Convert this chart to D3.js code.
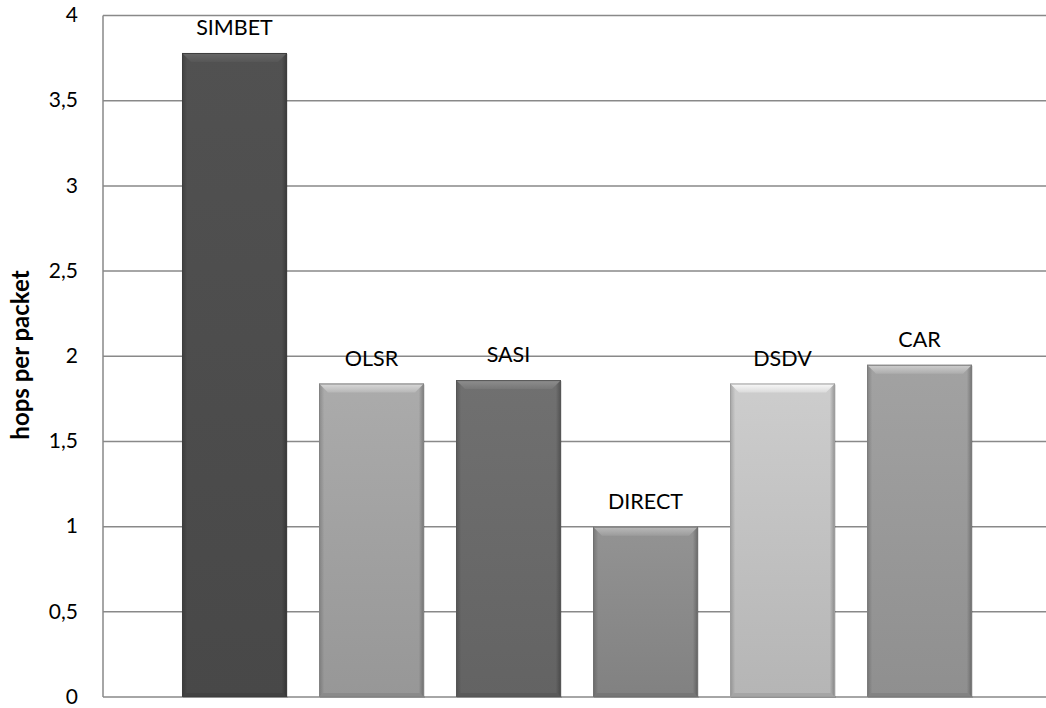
<!DOCTYPE html>
<html><head><meta charset="utf-8">
<script src="https://cdn.jsdelivr.net/npm/d3@7"></script>
<style>
html,body{margin:0;padding:0;background:#fff;}
svg{display:block;font-family:Lato,"Open Sans",sans-serif;}
</style></head>
<body>
<svg id="chart" width="1046" height="708"></svg>
<script>
const categories = ["SIMBET","OLSR","SASI","DIRECT","DSDV","CAR"];
const values = [3.78, 1.84, 1.86, 1.00, 1.84, 1.95];
const barColors = ["#4d4d4d","#a2a2a2","#6a6a6a","#8b8b8b","#c2c2c2","#9a9a9a"];
const yTicks = [0,0.5,1,1.5,2,2.5,3,3.5,4];
const yTickLabels = ["0","0,5","1","1,5","2","2,5","3","3,5","4"];
const yTitle = "hops per packet";

(function(){
const svg = d3.select("#chart");
const pLeft = 103, pRight = 1051, pTop = 15.5, pBottom = 697;
const x = d3.scaleBand().domain(categories).range([pLeft,pRight]).paddingInner(0.2336).paddingOuter(0.5766);
const y = d3.scaleLinear().domain([0,4]).range([pBottom,pTop]);

const defs = svg.append("defs");
categories.forEach((c,i)=>{
  const base = d3.color(barColors[i]);
  const g = defs.append("linearGradient").attr("id","g"+i).attr("x1",0).attr("x2",0).attr("y1",0).attr("y2",1);
  g.append("stop").attr("offset","0%").attr("stop-color",base.brighter(0.15));
  g.append("stop").attr("offset","100%").attr("stop-color",base.darker(0.2));
  const h = defs.append("linearGradient").attr("id","h"+i).attr("x1",0).attr("x2",1).attr("y1",0).attr("y2",0);
  h.append("stop").attr("offset","0%").attr("stop-color","#000").attr("stop-opacity",0.2);
  h.append("stop").attr("offset","5%").attr("stop-color","#000").attr("stop-opacity",0);
  h.append("stop").attr("offset","95%").attr("stop-color","#000").attr("stop-opacity",0);
  h.append("stop").attr("offset","100%").attr("stop-color","#000").attr("stop-opacity",0.28);
  const t = defs.append("linearGradient").attr("id","t"+i).attr("x1",0).attr("x2",0).attr("y1",0).attr("y2",1);
  t.append("stop").attr("offset","0%").attr("stop-color",base.brighter(0.9));
  t.append("stop").attr("offset","100%").attr("stop-color",base.brighter(0.35));
});

svg.append("g").selectAll("line").data(yTicks).join("line")
  .attr("x1",pLeft).attr("x2",1046).attr("y1",d=>y(d)).attr("y2",d=>y(d))
  .attr("stroke","#898989").attr("stroke-width",1.5);
svg.append("line").attr("x1",pLeft).attr("x2",pLeft).attr("y1",y(4)).attr("y2",y(0))
  .attr("stroke","#898989").attr("stroke-width",1.5);

svg.append("g").selectAll("text").data(yTicks).join("text")
  .attr("x",78).attr("y",d=>y(d)).attr("dy","0.32em").attr("text-anchor","end")
  .attr("font-size",21).attr("fill","#000").text((d,i)=>yTickLabels[i]);

svg.append("text").attr("transform","translate(29,355) rotate(-90)")
  .attr("text-anchor","middle").attr("font-size",24).attr("font-weight","bold").text(yTitle);

const bars = svg.append("g").selectAll("g").data(categories).join("g");
bars.append("rect").attr("x",d=>x(d)+1).attr("y",(d,i)=>y(values[i])+1)
  .attr("width",x.bandwidth()).attr("height",(d,i)=>y(0)-y(values[i]))
  .attr("fill","#000").attr("opacity",0.12);
bars.append("rect").attr("x",d=>x(d)).attr("y",(d,i)=>y(values[i]))
  .attr("width",x.bandwidth()).attr("height",(d,i)=>y(0)-y(values[i]))
  .attr("fill",(d,i)=>`url(#g${i})`);
bars.append("rect").attr("x",d=>x(d)).attr("y",(d,i)=>y(values[i]))
  .attr("width",x.bandwidth()).attr("height",(d,i)=>y(0)-y(values[i]))
  .attr("fill",(d,i)=>`url(#h${i})`);
const bev = 9;
bars.append("path").attr("d",(d,i)=>{
  const x0=x(d), x1=x(d)+x.bandwidth(), t=y(values[i]);
  return `M${x0},${t}L${x1},${t}L${x1-bev},${t+bev}L${x0+bev},${t+bev}Z`;
}).attr("fill",(d,i)=>`url(#t${i})`).attr("opacity",0.9);
bars.append("path").attr("d",(d,i)=>{
  const x0=x(d), x1=x(d)+x.bandwidth(), b=y(0);
  return `M${x0},${b}L${x1},${b}L${x1-4},${b-4}L${x0+4},${b-4}Z`;
}).attr("fill",(d,i)=>d3.color(barColors[i]).darker(0.45));
bars.append("rect").attr("x",d=>x(d)+0.5).attr("y",(d,i)=>y(values[i])+0.5)
  .attr("width",x.bandwidth()-1).attr("height",(d,i)=>y(0)-y(values[i])-1)
  .attr("fill","none").attr("stroke",(d,i)=>d3.color(barColors[i]).darker(0.6)).attr("stroke-width",1);

svg.append("g").selectAll("text").data(categories).join("text")
  .attr("x",d=>x(d)+x.bandwidth()/2).attr("y",(d,i)=>y(values[i])-18)
  .attr("text-anchor","middle").attr("font-size",21.5).attr("fill","#000").text(d=>d);
})();
</script>
</body></html>
